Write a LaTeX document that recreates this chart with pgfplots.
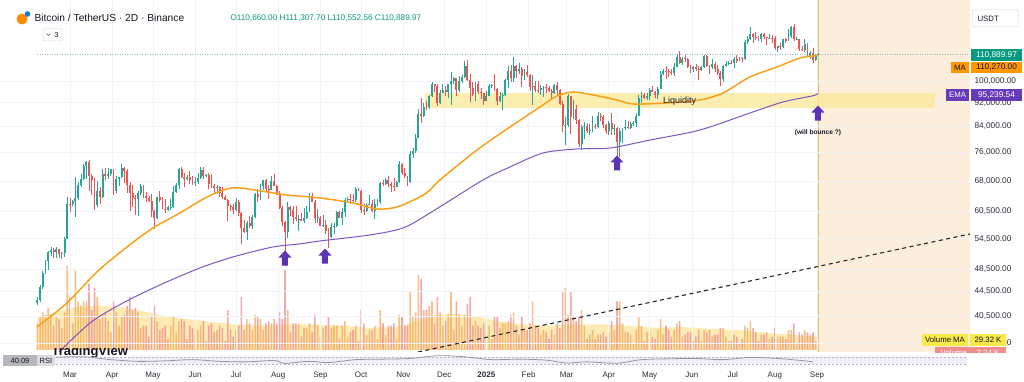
\documentclass[border=0pt]{standalone}
\usepackage{pgfplots}
\pgfplotsset{compat=1.18}
\usepackage{pgfplotstable}
\usepackage{fontspec}
\setmainfont{Liberation Sans}
\definecolor{cup}{HTML}{26A69A}
\definecolor{cdn}{HTML}{EF5350}
\definecolor{mac}{HTML}{F7A21B}
\definecolor{emac}{HTML}{7E57C2}
\definecolor{peach}{HTML}{FDEEDC}
\definecolor{peachline}{HTML}{F6B26B}
\definecolor{volup}{HTML}{F6A95A}
\definecolor{voldn}{HTML}{F28A93}
\definecolor{volma}{HTML}{FCE9A6}
\definecolor{band}{HTML}{FCE896}
\definecolor{gridc}{HTML}{F0F3FA}
\definecolor{txt}{HTML}{131722}
\definecolor{lbl}{HTML}{2A2E39}
\definecolor{tealc}{HTML}{089981}
\definecolor{arrowc}{HTML}{5B34B5}
\definecolor{emabox}{HTML}{673AB7}
\definecolor{maboxc}{HTML}{FF9800}
\definecolor{vmabox}{HTML}{F9E84A}
\definecolor{volbox}{HTML}{F28B8B}
\definecolor{rsiband}{HTML}{F1ECF9}
\definecolor{rsiline}{HTML}{9598A1}
\pgfdeclareplotmark{barrow}{%
  \pgfpathmoveto{\pgfqpoint{0pt}{7.5pt}}%
  \pgfpathlineto{\pgfqpoint{6.5pt}{0.5pt}}%
  \pgfpathlineto{\pgfqpoint{3pt}{0.5pt}}%
  \pgfpathlineto{\pgfqpoint{3pt}{-7.5pt}}%
  \pgfpathlineto{\pgfqpoint{-3pt}{-7.5pt}}%
  \pgfpathlineto{\pgfqpoint{-3pt}{0.5pt}}%
  \pgfpathlineto{\pgfqpoint{-6.5pt}{0.5pt}}%
  \pgfpathclose\pgfusepathqfill}
\pgfplotstableread{
o h l c v
42.6 43.5 42.3 43.1 60
43.1 45.6 42.8 45.3 75
45.3 48.2 45.0 47.8 85
47.8 50.3 47.6 50.0 80
50.0 52.0 48.3 51.8 95
51.8 52.8 51.0 52.1 80
52.1 52.5 50.6 51.7 55
51.7 52.9 50.7 52.3 75
52.3 52.4 50.6 51.3 70
51.3 51.7 50.5 51.6 50
51.6 54.9 50.9 54.5 85
54.5 64.0 54.4 62.4 190
62.4 63.7 60.4 62.2 120
62.2 63.3 61.8 63.1 60
63.1 69.2 59.2 63.8 180
63.8 67.8 63.2 67.0 110
67.0 70.0 66.5 68.5 100
68.5 72.8 68.2 72.1 110
72.1 73.6 68.6 73.1 110
73.1 73.8 65.5 69.4 150
69.4 70.0 64.5 68.4 90
68.4 68.9 60.8 62.0 140
62.0 68.1 61.5 65.5 120
65.5 66.6 62.3 64.0 70
64.0 71.2 63.8 70.0 80
70.0 71.5 68.2 69.5 85
69.5 71.5 68.7 69.9 65
69.9 71.4 69.3 71.3 40
71.3 71.4 64.5 65.5 110
65.5 69.3 65.1 68.5 85
68.5 69.0 66.8 69.0 55
69.0 72.8 68.9 71.6 75
71.6 71.8 67.5 70.6 80
70.6 71.3 65.0 67.1 100
67.1 67.9 60.7 65.0 120
65.0 66.9 61.7 63.8 90
63.8 64.5 59.8 63.5 95
63.5 65.5 59.6 64.9 85
64.9 67.2 64.5 66.8 50
66.8 67.1 63.8 64.3 55
64.3 65.3 62.8 63.8 55
63.8 64.3 62.8 63.1 30
63.1 64.8 59.2 60.6 75
60.6 60.9 56.5 59.1 100
59.1 64.0 58.8 63.9 65
63.9 65.5 62.7 63.2 45
63.2 64.0 61.0 61.2 50
61.2 63.5 60.2 60.8 55
60.8 61.8 60.6 61.5 25
61.5 63.4 60.8 61.6 55
61.6 66.7 61.3 65.2 75
65.2 67.5 65.1 66.9 40
66.9 71.5 66.1 71.4 65
71.4 71.9 68.8 69.2 70
69.2 70.1 66.6 68.5 65
68.5 69.6 68.2 69.0 25
69.0 70.6 67.3 68.4 55
68.4 69.5 67.1 67.6 50
67.6 69.0 66.7 67.8 35
67.8 70.3 67.3 68.8 45
68.8 71.8 68.5 71.1 55
71.1 71.9 68.5 69.3 65
69.3 69.8 69.0 69.6 20
69.6 70.1 66.1 67.3 55
67.3 70.0 66.3 66.8 60
66.8 67.3 65.0 66.2 40
66.2 67.0 64.8 66.5 45
66.5 66.7 64.1 65.0 55
65.0 66.4 63.4 64.1 50
64.1 64.5 63.2 63.2 20
63.2 63.4 58.4 61.8 90
61.8 62.4 60.7 61.6 45
61.6 62.2 60.0 60.9 30
60.9 63.8 60.7 62.9 45
62.9 63.3 59.5 60.2 55
60.2 60.5 53.5 56.7 120
56.7 58.5 55.8 55.9 45
55.9 58.3 54.3 58.0 70
58.0 59.5 56.9 57.3 60
57.3 59.8 56.5 59.2 45
59.2 64.9 59.1 64.8 80
64.8 66.1 62.7 64.1 75
64.1 67.4 63.3 66.7 70
66.7 68.4 65.8 68.2 45
68.2 68.5 65.4 65.9 60
65.9 67.1 63.4 65.8 65
65.8 69.4 65.7 68.0 60
68.0 70.0 66.7 66.8 70
66.8 66.9 64.5 64.6 60
64.6 65.6 61.0 61.4 85
61.4 61.9 57.2 58.1 70
58.1 58.3 49.0 56.0 180
56.0 62.7 54.6 61.7 90
61.7 61.9 59.6 60.9 40
60.9 61.8 57.7 59.3 60
59.3 61.8 58.4 58.7 60
58.7 59.8 56.1 58.9 60
58.9 60.2 58.4 58.4 30
58.4 61.4 57.9 59.0 50
59.0 61.8 58.8 60.4 50
60.4 64.9 60.3 64.2 60
64.2 65.0 62.7 62.8 40
62.8 63.2 57.8 59.0 80
59.0 61.1 57.9 59.1 55
59.1 59.4 57.2 57.3 30
57.3 59.8 57.1 57.5 50
57.5 58.5 55.6 56.2 55
56.2 56.9 52.5 54.8 75
54.8 58.0 54.6 57.0 50
57.0 58.0 55.6 57.3 55
57.3 60.6 57.1 60.5 55
60.5 60.7 59.1 59.1 25
59.1 61.3 57.5 60.3 55
60.3 63.8 59.2 63.2 65
63.2 64.1 62.7 63.6 30
63.6 64.7 62.3 63.3 40
63.3 64.8 62.7 63.2 45
63.2 66.5 62.7 65.9 55
65.9 66.3 65.4 65.6 20
65.6 65.8 60.2 60.8 90
60.8 62.4 59.8 60.7 60
60.7 62.5 60.5 62.1 35
62.1 64.5 62.0 62.2 45
62.2 63.2 60.3 60.6 45
60.6 63.4 58.9 62.4 55
62.4 63.4 61.8 62.8 25
62.8 67.9 62.4 67.6 90
67.6 68.4 66.7 67.4 60
67.4 68.9 67.1 68.4 35
68.4 69.5 66.6 67.4 55
67.4 67.8 65.3 66.7 55
66.7 68.8 65.5 66.6 60
66.6 68.0 66.4 67.9 25
67.9 73.6 67.5 72.7 80
72.7 72.9 69.7 70.2 75
70.2 71.6 68.8 69.3 55
69.3 69.5 66.8 67.8 55
67.8 76.4 67.5 75.6 130
75.6 77.3 74.4 76.5 75
76.5 81.5 75.9 80.4 85
80.4 89.9 80.2 88.0 170
88.0 93.5 85.1 87.3 160
87.3 91.8 87.0 90.6 90
90.6 92.6 89.4 90.5 90
90.5 94.9 89.9 94.3 100
94.3 99.6 94.1 98.9 110
98.9 99.0 95.8 98.0 60
98.0 98.8 90.8 91.9 120
91.9 96.6 91.5 95.6 85
95.6 98.7 95.3 96.4 55
96.4 98.2 94.5 95.9 65
95.9 99.0 93.6 98.8 80
98.8 103.7 91.2 99.9 130
99.9 101.4 98.8 101.2 45
101.2 101.3 94.2 96.7 110
96.7 101.9 95.7 100.0 80
100.0 102.5 99.2 101.4 55
101.4 107.8 101.2 106.1 80
106.1 108.4 99.9 100.2 105
100.2 102.8 92.2 97.2 120
97.2 99.5 94.2 95.1 55
95.1 99.5 92.5 98.7 65
98.7 99.9 95.1 95.8 55
95.8 97.3 93.3 95.3 50
95.3 95.5 91.3 92.7 60
92.7 96.2 92.6 94.4 45
94.4 98.9 94.2 98.1 55
98.1 98.8 97.2 98.3 25
98.3 102.7 96.1 96.9 75
96.9 97.3 91.2 92.5 75
92.5 95.8 92.2 94.5 50
94.5 95.3 89.3 94.6 60
94.6 100.7 94.3 100.5 60
100.5 105.8 97.3 104.1 65
104.1 106.3 99.6 101.3 80
101.3 109.6 99.5 106.1 85
106.1 106.3 101.3 104.0 55
104.0 107.1 102.8 104.7 35
104.7 105.5 97.8 102.0 75
102.0 104.8 100.2 103.7 45
103.7 106.4 101.5 102.4 45
102.4 102.8 96.2 97.7 60
97.7 102.5 91.2 98.0 110
98.0 100.1 95.7 96.6 55
96.6 100.1 95.6 96.5 50
96.5 98.3 94.8 97.4 35
97.4 98.2 94.1 97.8 45
97.8 98.7 95.3 97.5 40
97.5 97.9 95.9 96.1 25
96.1 97.0 93.4 95.5 45
95.5 98.8 95.1 98.3 35
98.3 99.5 94.8 96.5 60
96.5 96.9 91.2 91.4 50
91.4 92.5 82.3 84.3 130
84.3 87.1 78.2 84.4 140
84.4 95.0 83.9 94.3 80
94.3 94.4 81.5 87.2 130
87.2 92.8 86.4 89.9 75
89.9 91.2 84.6 86.2 65
86.2 86.5 77.5 78.6 75
78.6 84.3 76.6 83.7 90
83.7 85.3 79.9 84.0 55
84.0 85.2 82.0 82.6 25
82.6 84.8 81.1 82.7 35
82.7 87.4 82.2 84.2 45
84.2 84.8 83.2 83.8 25
83.8 88.7 83.6 87.5 35
87.5 88.5 85.8 86.9 35
86.9 87.8 83.6 84.4 40
84.4 84.6 81.6 82.4 30
82.4 85.6 81.3 85.2 40
85.2 88.5 81.2 83.1 65
83.1 84.7 81.2 83.5 45
83.5 83.8 74.5 79.2 110
79.2 83.5 74.6 82.6 110
82.6 83.6 78.7 83.4 60
83.4 85.9 82.7 83.7 40
83.7 85.8 83.1 83.6 40
83.6 85.5 83.1 84.9 35
84.9 85.6 84.2 85.1 15
85.1 88.5 83.9 87.5 45
87.5 94.7 87.3 93.7 75
93.7 95.8 91.7 94.7 55
94.7 95.3 93.2 93.8 20
93.8 95.6 92.8 94.3 40
94.3 97.4 92.9 96.5 45
96.5 97.9 95.7 95.9 30
95.9 96.2 93.5 94.7 25
94.7 97.7 93.4 97.0 45
97.0 104.1 96.9 102.9 70
102.9 104.9 102.3 104.1 35
104.1 105.8 100.7 103.8 55
103.8 104.8 101.4 103.7 45
103.7 104.6 102.4 103.2 30
103.2 107.1 102.0 105.6 45
105.6 110.8 105.4 109.7 60
109.7 112.0 106.8 107.3 65
107.3 109.5 106.5 109.0 30
109.0 110.7 107.6 108.9 35
108.9 109.3 105.3 105.6 40
105.6 106.3 103.1 104.6 40
104.6 105.9 103.7 105.7 20
105.7 106.8 104.1 104.7 30
104.7 105.9 100.4 104.3 45
104.3 106.0 104.1 105.7 20
105.7 110.4 105.3 110.2 45
110.2 110.4 105.7 105.9 40
105.9 106.2 102.6 105.4 45
105.4 108.9 104.9 106.8 30
106.8 107.7 103.4 104.8 35
104.8 106.5 102.4 103.3 35
103.3 104.0 98.2 100.9 50
100.9 106.2 99.6 106.0 50
106.0 108.1 105.6 106.9 30
106.9 107.8 106.4 107.3 20
107.3 108.5 106.7 107.1 20
107.1 109.8 105.1 108.8 35
108.8 110.5 107.3 108.0 30
108.0 109.5 107.8 109.2 15
109.2 109.7 107.4 108.9 25
108.9 116.9 108.3 116.0 55
116.0 118.9 115.2 117.4 50
117.4 123.2 117.2 119.8 65
119.8 120.1 115.7 118.6 50
118.6 120.9 116.9 117.9 40
117.9 118.9 116.5 117.3 20
117.3 120.3 116.1 119.9 35
119.9 120.1 117.3 118.3 35
118.3 118.6 114.7 117.9 40
117.9 119.8 117.5 118.0 25
118.0 119.3 115.8 117.8 30
117.8 118.9 112.7 113.3 50
113.3 114.5 111.9 114.2 30
114.2 115.7 112.6 114.1 30
114.1 117.6 113.4 117.5 30
117.5 117.9 115.8 116.5 25
116.5 122.3 116.4 118.7 45
118.7 123.7 118.1 123.3 45
123.3 124.5 116.8 117.4 60
117.4 118.6 117.2 117.5 15
117.5 117.6 112.4 112.9 40
112.9 114.6 112.4 112.5 35
112.5 117.4 111.7 115.4 45
115.4 115.6 109.9 110.1 40
110.1 112.4 108.7 111.3 35
111.3 113.5 107.3 108.4 40
108.4 110.9 107.9 110.66 20
110.66 111.31 110.55 110.89 2.24
}\candles
\begin{document}
\begin{tikzpicture}[x=1pt,y=1pt]
\useasboundingbox (0,0) rectangle (1024,382);
\fill[white] (0,0) rectangle (1024,382);
% future (shaded) region
\fill[peach] (818,30) rectangle (970,382);
\draw[peachline, line width=1.1pt] (818,30) -- (818,382);

% ---------- volume pane ----------
\begin{axis}[at={(0pt,32pt)}, anchor=south west, width=970pt, height=350pt, scale only axis,
  xmin=8.56, xmax=721.42, ymin=0, ymax=791, hide axis]
\addplot[fill=volma, draw=none, opacity=0.85] coordinates {
(36,72) (50,85) (65,98) (80,100) (95,98) (110,90) (125,80) (140,72) (160,65) (180,58)
(200,55) (220,58) (240,58) (260,55) (280,50) (300,52) (315,65) (330,80) (345,82) (360,75)
(375,65) (390,58) (410,55) (430,57) (450,58) (470,55) (490,50) (510,52) (530,48) (550,45)
(570,40) (590,34) (610,30)} \closedcycle;
\addplot[ybar, bar width=1.6pt, bar shift=0pt, fill=volup, draw=none, opacity=0.75]
  table[x expr={36+2*\coordindex}, y expr={\thisrow{c}>=\thisrow{o} ? \thisrow{v} : nan}] {\candles};
\addplot[ybar, bar width=1.6pt, bar shift=0pt, fill=voldn, draw=none, opacity=0.75]
  table[x expr={36+2*\coordindex}, y expr={\thisrow{c}<\thisrow{o} ? \thisrow{v} : nan}] {\candles};
\end{axis}

% ---------- price pane ----------
\begin{axis}[at={(0pt,13pt)}, anchor=south west, width=970pt, height=369pt, scale only axis,
  xmin=8.56, xmax=721.42, ymode=log, ymin=33.03, ymax=136.55,
  axis line style={draw=none}, major tick length=0pt,
  xtick={60,91,121,152,182,213,244,274,305,335,366,397,425,456,486,517,547,578,609},
  xticklabels={Mar,Apr,May,Jun,Jul,Aug,Sep,Oct,Nov,Dec,\textbf{2025},Feb,Mar,Apr,May,Jun,Jul,Aug,Sep},
  ytick={36.5,40.5,44.5,48.5,54.5,60.5,68,76,84,92,100},
  yticklabels={{36,500.00},{40,500.00},{44,500.00},{48,500.00},{54,500.00},{60,500.00},{68,000.00},{76,000.00},{84,000.00},{92,000.00},{100,000.00}},
  yticklabel pos=right,
  xmajorgrids, ymajorgrids, grid style={draw=gridc, line width=0.7pt},
  xticklabel style={font=\fontsize{8}{9}\selectfont, text=lbl, yshift=1pt},
  yticklabel style={font=\fontsize{8.3}{9}\selectfont, text=lbl, xshift=1pt}]
% liquidity band
\fill[band, opacity=0.75] (axis cs:320.9,90.14) rectangle (axis cs:695.7,95.49);
% dashed trend line
\addplot[black!85, line width=1.1pt, dash pattern=on 4pt off 3.5pt] coordinates {(315.8,35.26) (721.42,55.52)};
% last price line
\addplot[color=tealc!45!gray!60, line width=0.5pt, dotted] coordinates {(36,110.89) (721.42,110.89)};
% candles: wicks
\addplot[draw=none, mark=none, error bars/.cd, y dir=plus, y explicit, error mark=none,
  error bar style={draw=cup, line width=0.7pt}]
  table[x expr={36+2*\coordindex}, y expr={\thisrow{c}>=\thisrow{o} ? \thisrow{l} : nan},
        y error plus expr={\thisrow{h}-\thisrow{l}}] {\candles};
\addplot[draw=none, mark=none, error bars/.cd, y dir=plus, y explicit, error mark=none,
  error bar style={draw=cdn, line width=0.7pt}]
  table[x expr={36+2*\coordindex}, y expr={\thisrow{c}<\thisrow{o} ? \thisrow{l} : nan},
        y error plus expr={\thisrow{h}-\thisrow{l}}] {\candles};
% candles: bodies
\addplot[draw=none, mark=none, error bars/.cd, y dir=plus, y explicit, error mark=none,
  error bar style={draw=cup, line width=1.9pt}]
  table[x expr={36+2*\coordindex}, y expr={\thisrow{c}>=\thisrow{o} ? \thisrow{o} : nan},
        y error plus expr={max(\thisrow{c}-\thisrow{o},0.15)}] {\candles};
\addplot[draw=none, mark=none, error bars/.cd, y dir=plus, y explicit, error mark=none,
  error bar style={draw=cdn, line width=1.9pt}]
  table[x expr={36+2*\coordindex}, y expr={\thisrow{c}<\thisrow{o} ? \thisrow{c} : nan},
        y error plus expr={max(\thisrow{o}-\thisrow{c},0.15)}] {\candles};
% moving averages
\addplot[mac, line width=1.5pt, smooth] coordinates {
(35.7,38.82) (57.8,42.58) (79.8,47.97) (101.9,52.81) (121.0,56.81) (140.8,60.19) (160.7,64.01)
(175.4,66.01) (184.9,66.27) (204.8,65.26) (219.5,64.50) (243.7,63.76) (268.0,62.55) (285.6,61.12)
(300.3,61.59) (317.2,64.01) (324.6,65.76) (331.9,68.33) (359.1,76.69) (383.4,83.79) (407.6,91.18)
(417.9,94.39) (429.7,95.86) (444.4,94.76) (462.0,92.95) (473.8,91.53) (498.7,91.89) (523.0,92.95)
(539.9,95.49) (559.7,101.55) (579.6,105.53) (596.5,109.25) (609.7,110.27)};
\addplot[emac, line width=1pt, smooth] coordinates {
(49.0,34.72) (74.7,39.42) (99.0,42.58) (126.1,45.63) (155.5,48.71) (179.8,50.82) (209.2,52.81)
(229.0,53.43) (243.7,54.04) (280.5,55.31) (304.7,56.81) (324.6,60.19) (363.5,68.33) (383.4,71.84)
(407.6,75.81) (432.6,76.99) (456.9,77.28) (486.3,79.70) (523.0,82.82) (559.7,88.42) (584.0,92.24)
(605.3,94.39) (609.7,95.24)};
% arrows
\addplot[only marks, mark=barrow, color=arrowc] coordinates {(218,50.6) (247.4,51.0) (462,72.95) (609.7,88.4)};
\node[font=\fontsize{9}{10}\selectfont, text=txt] at (axis cs:508,92.6) {Liquidity};
\node[font=\bfseries\fontsize{6.6}{8}\selectfont, text=txt] at (axis cs:609.7,81.9) {(will bounce ?)};
\end{axis}

% ---------- RSI pane ----------
\begin{axis}[at={(0pt,13pt)}, anchor=south west, width=970pt, height=17pt, scale only axis,
  xmin=8.56, xmax=721.42, ymin=0, ymax=100, hide axis]
\fill[white] (axis cs:8.56,0) rectangle (axis cs:721.42,100);
\fill[rsiband] (axis cs:47,30) rectangle (axis cs:719,70);
\draw[rsiline!70, line width=0.5pt, dash pattern=on 2pt off 2pt] (axis cs:47,70) -- (axis cs:719,70);
\draw[rsiline!70, line width=0.5pt, dash pattern=on 2pt off 2pt] (axis cs:47,30) -- (axis cs:719,30);
\addplot[rsiline, line width=0.8pt, smooth] coordinates {
(50,70) (70,72) (90,55) (110,45) (130,48) (150,55) (170,45) (190,42) (210,50) (218,33)
(235,45) (250,38) (270,55) (290,58) (310,62) (330,78) (350,72) (370,55) (390,58) (410,52)
(425,35) (440,42) (462,34) (480,55) (500,60) (520,62) (540,55) (560,68) (580,62) (600,48) (606,42)};
\end{axis}

% TradingView watermark (partly hidden)
\begin{scope}
\clip (40,25) rectangle (175,33);
\node[font=\bfseries\fontsize{13}{14}\selectfont, text=txt, anchor=west] at (48,30) {TradingView};
\end{scope}
% RSI labels
\fill[rsiline!70] (3,16) rectangle (37,27);
\node[font=\fontsize{7.5}{8}\selectfont, text=txt] at (20,21.5) {40.09};
\fill[rsiline!35] (37,16) rectangle (55,27);
\node[font=\fontsize{7.5}{8}\selectfont, text=txt] at (46,21.5) {RSI};

% ---------- header ----------
\fill[orange!90!yellow] (22,363) circle (5.5);
\fill[cyan!60!blue] (27.5,368) circle (2.8);
\node[anchor=west, font=\fontsize{10.2}{12}\selectfont, text=txt] at (31,364) {Bitcoin / TetherUS · 2D · Binance};
\node[anchor=west, font=\fontsize{8.2}{10}\selectfont, text=tealc] at (227,364) {O110,660.00 H111,307.70 L110,552.56 C110,889.97};
\draw[gray!30, line width=0.5pt, rounded corners=1pt] (43,341) rectangle (62,353);
\draw[txt!70, line width=0.6pt] (46.5,348.5) -- (48.5,346.5) -- (50.5,348.5);
\node[font=\fontsize{7}{8}\selectfont, text=txt] at (56.5,347) {3};

% ---------- right price-scale tags ----------
\draw[gray!30, line width=0.5pt, rounded corners=1pt] (972,355) rectangle (1018,372);
\node[anchor=west, font=\fontsize{7.8}{9}\selectfont, text=txt] at (974,363.5) {USDT};
\fill[tealc] (971,321) rectangle (1022,333);
\node[font=\fontsize{8.3}{9}\selectfont, text=white] at (996.5,327) {110,889.97};
\fill[maboxc] (951,309) rectangle (969,320);
\node[font=\fontsize{7.8}{9}\selectfont, text=txt] at (960,314.5) {MA};
\fill[maboxc] (971,309) rectangle (1022,320);
\node[font=\fontsize{8.3}{9}\selectfont, text=txt] at (996.5,314.5) {110,270.00};
\fill[emabox] (946,281) rectangle (969,293);
\node[font=\fontsize{7.8}{9}\selectfont, text=white] at (957.5,287) {EMA};
\fill[emabox] (971,281) rectangle (1022,293);
\node[font=\fontsize{8.3}{9}\selectfont, text=white] at (996.5,287) {95,239.54};
\begin{scope}
\clip (900,29) rectangle (1024,40);
\fill[volbox] (935,24) rectangle (1006,35);
\node[font=\fontsize{7.8}{9}\selectfont, text=white] at (970,29.5) {Volume \quad 2.24 K};
\end{scope}
\fill[vmabox] (922,36) rectangle (968,48);
\node[font=\fontsize{7.8}{9}\selectfont, text=txt] at (945,42) {Volume MA};
\fill[vmabox] (970,36) rectangle (1006,48);
\node[font=\fontsize{7.8}{9}\selectfont, text=txt] at (988,42) {29.32 K};
\end{tikzpicture}
\end{document}
